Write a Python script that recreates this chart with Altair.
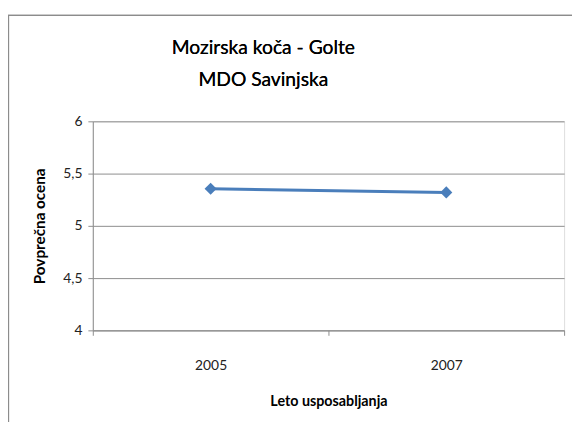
import altair as alt
import pandas as pd

years = ["2005", "2007"]
scores = [5.355, 5.32]
title_lines = ["Mozirska koča - Golte", "MDO Savinjska"]

df = pd.DataFrame({"leto": years, "ocena": scores})

FONT = "Lato"
BLUE = "#4A7EBB"
GRID = "#8C8C8C"

x = alt.X("leto:N", title="Leto usposabljanja",
          scale=alt.Scale(paddingInner=0, paddingOuter=0),
          axis=alt.Axis(labelAngle=0, tickBand="extent", domainColor=GRID, tickColor=GRID,
                        tickSize=5, labelPadding=24, titlePadding=22,
                        labelFont=FONT, labelFontSize=14, labelColor="#222222",
                        titleFont=FONT, titleFontSize=14.5, titleFontWeight="bold", titleColor="#000000"))
y = alt.Y("ocena:Q", title="Povprečna ocena",
          scale=alt.Scale(domain=[4, 6], nice=False, zero=False),
          axis=alt.Axis(values=[4, 4.5, 5, 5.5, 6], domainColor=GRID, tickColor=GRID, gridColor=GRID,
                        tickSize=5, labelPadding=6, titlePadding=16,
                        labelExpr="replace(toString(datum.value), '.', ',')",
                        labelFont=FONT, labelFontSize=14, labelColor="#222222",
                        titleFont=FONT, titleFontSize=15.5, titleFontWeight="bold", titleColor="#000000"))

line = alt.Chart(df).mark_line(color=BLUE, strokeWidth=3).encode(x=x, y=y)
pts = alt.Chart(df).mark_point(shape="diamond", filled=True, color=BLUE, size=150, opacity=1).encode(x=x, y=y)

border = alt.Chart(df).mark_rect(fill=None, stroke="#8C8C8C", strokeWidth=1.2, clip=False).encode(
    x=alt.value(-85.5), x2=alt.value(620), y=alt.value(-107.5), y2=alt.value(400))

title = alt.Chart(df).mark_text(text=title_lines, font=FONT, fontSize=19.5, color="#000000",
                                 align="center", baseline="middle", lineHeight=32).encode(
    x=alt.value(173), y=alt.value(-74))

chart = alt.layer(border, title, line, pts).properties(
    width=478, height=212,
    autosize=alt.AutoSizeParams(type="none"),
    padding={"left": 86, "top": 112, "right": 8, "bottom": 90},
).configure_view(stroke=None).configure(background="white")

chart.save("out.html", embed_options={"renderer": "svg", "actions": False})
